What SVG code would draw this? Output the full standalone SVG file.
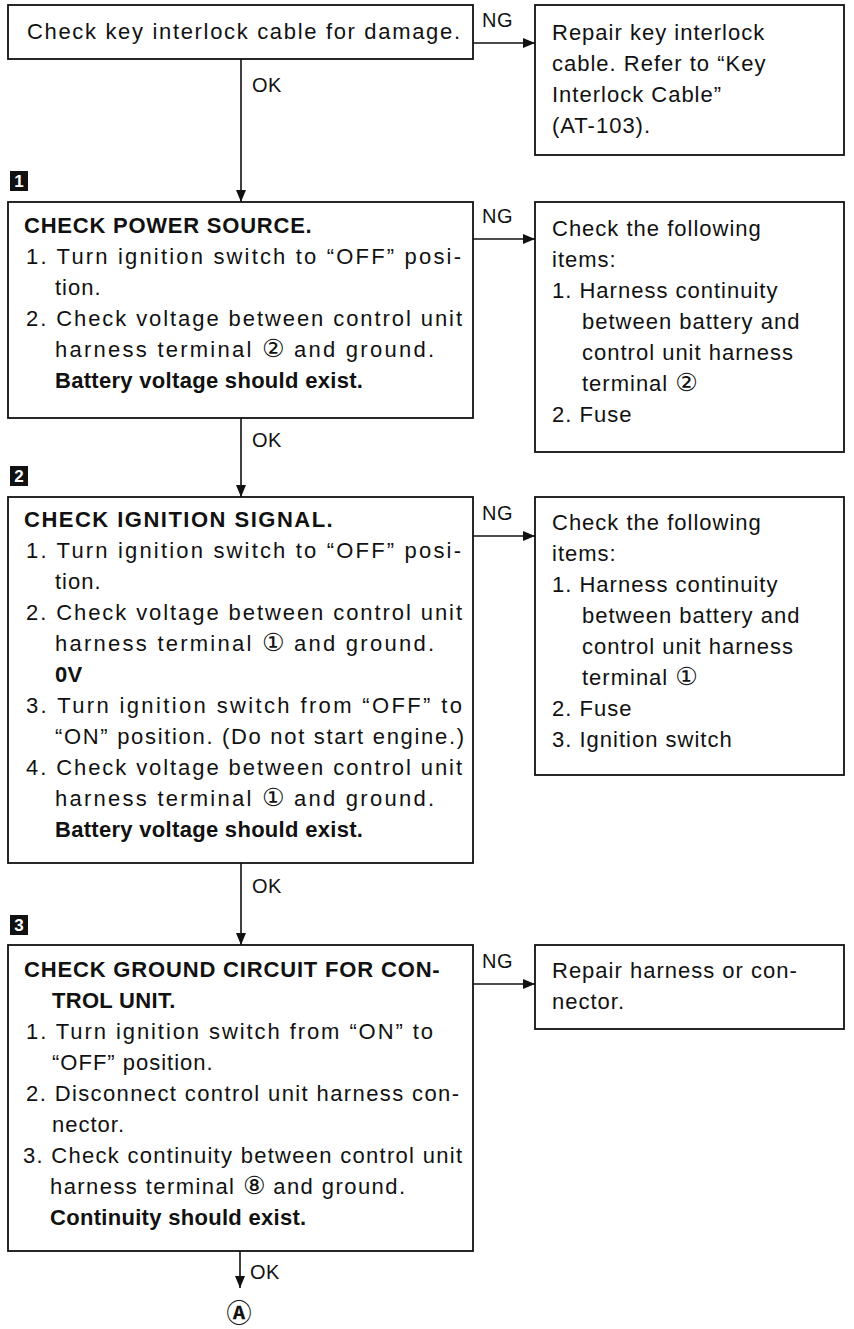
<svg xmlns="http://www.w3.org/2000/svg" width="854" height="1329" viewBox="0 0 854 1329">
<defs>
<style>
.t{font-family:"Liberation Sans",Arial,Helvetica,sans-serif;font-size:22px;letter-spacing:1px;fill:#111}
.b{font-weight:bold;letter-spacing:0.3px}
.lbl{font-family:"Liberation Sans",Arial,Helvetica,sans-serif;font-size:20px;letter-spacing:0.5px;fill:#111}
.cd{font-family:"DejaVu Sans","Noto Sans CJK JP",sans-serif;font-size:25px;letter-spacing:0}
.box{fill:#fff;stroke:#111;stroke-width:1.8}
.mk{fill:#111}
.mkt{font-family:"Liberation Sans",Arial,sans-serif;font-size:17px;font-weight:bold;fill:#fff;text-anchor:middle}
.ln{fill:none;stroke:#111;stroke-width:1.6}
</style>
<marker id="ah" viewBox="0 0 12 10" refX="12" refY="5" markerWidth="12" markerHeight="10" markerUnits="userSpaceOnUse" orient="auto">
<path d="M0,0 L12,5 L0,10 z" fill="#111"/>
</marker>
</defs>
<rect x="0" y="0" width="854" height="1329" fill="#fff"/>

<g id="connectors">
<path class="ln" d="M241,59 V202" marker-end="url(#ah)"/>
<path class="ln" d="M473,43 H535" marker-end="url(#ah)"/>
<path class="ln" d="M241,418 V497" marker-end="url(#ah)"/>
<path class="ln" d="M473,239 H535" marker-end="url(#ah)"/>
<path class="ln" d="M241,863 V945" marker-end="url(#ah)"/>
<path class="ln" d="M473,536 H535" marker-end="url(#ah)"/>
<path class="ln" d="M473,984 H535" marker-end="url(#ah)"/>
<path class="ln" d="M240,1251 V1288" marker-end="url(#ah)"/>
<text class="lbl" x="252" y="92">OK</text>
<text class="lbl" x="482" y="27">NG</text>
<text class="lbl" x="252" y="447">OK</text>
<text class="lbl" x="482" y="223">NG</text>
<text class="lbl" x="252" y="893">OK</text>
<text class="lbl" x="482" y="520">NG</text>
<text class="lbl" x="482" y="968">NG</text>
<text class="lbl" x="250" y="1279">OK</text>
</g>

<g id="start">
<rect class="box" x="8" y="5" width="465" height="54"/>
<text class="t" x="27" y="39" textLength="434" lengthAdjust="spacing">Check key interlock cable for damage.</text>
</g>

<g id="repair-cable">
<rect class="box" x="535" y="5" width="309" height="150"/>
<text class="t" x="552" y="40">Repair key interlock</text>
<text class="t" x="552" y="71">cable. Refer to “Key</text>
<text class="t" x="552" y="102">Interlock Cable”</text>
<text class="t" x="552" y="133">(AT-103).</text>
</g>

<g id="marker1">
<rect class="mk" x="10" y="171" width="18" height="20"/>
<text class="mkt" x="19" y="187">1</text>
</g>

<g id="step1">
<rect class="box" x="8" y="202" width="465" height="216"/>
<text class="t b" x="24" y="233" textLength="288" lengthAdjust="spacing">CHECK POWER SOURCE.</text>
<text class="t" x="26" y="264" textLength="436" lengthAdjust="spacing">1. Turn ignition switch to “OFF” posi-</text>
<text class="t" x="55" y="295">tion.</text>
<text class="t" x="26" y="326" textLength="437" lengthAdjust="spacing">2. Check voltage between control unit</text>
<text class="t" x="55" y="357" textLength="380" lengthAdjust="spacing">harness terminal <tspan class="cd">②</tspan> and ground.</text>
<text class="t b" x="55" y="388">Battery voltage should exist.</text>
</g>

<g id="step1-ng">
<rect class="box" x="535" y="202" width="309" height="250"/>
<text class="t" x="552" y="236">Check the following</text>
<text class="t" x="552" y="267">items:</text>
<text class="t" x="552" y="298">1. Harness continuity</text>
<text class="t" x="582" y="329">between battery and</text>
<text class="t" x="582" y="360">control unit harness</text>
<text class="t" x="582" y="391">terminal <tspan class="cd">②</tspan></text>
<text class="t" x="552" y="422">2. Fuse</text>
</g>

<g id="marker2">
<rect class="mk" x="10" y="466" width="18" height="20"/>
<text class="mkt" x="19" y="482">2</text>
</g>

<g id="step2">
<rect class="box" x="8" y="497" width="465" height="366"/>
<text class="t b" x="24" y="527" textLength="309" lengthAdjust="spacing">CHECK IGNITION SIGNAL.</text>
<text class="t" x="26" y="558" textLength="436" lengthAdjust="spacing">1. Turn ignition switch to “OFF” posi-</text>
<text class="t" x="55" y="589">tion.</text>
<text class="t" x="26" y="620" textLength="437" lengthAdjust="spacing">2. Check voltage between control unit</text>
<text class="t" x="55" y="651" textLength="380" lengthAdjust="spacing">harness terminal <tspan class="cd">①</tspan> and ground.</text>
<text class="t b" x="55" y="682">0V</text>
<text class="t" x="26" y="713" textLength="437" lengthAdjust="spacing">3. Turn ignition switch from “OFF” to</text>
<text class="t" x="55" y="744" textLength="410" lengthAdjust="spacing">“ON” position. (Do not start engine.)</text>
<text class="t" x="26" y="775" textLength="437" lengthAdjust="spacing">4. Check voltage between control unit</text>
<text class="t" x="55" y="806" textLength="380" lengthAdjust="spacing">harness terminal <tspan class="cd">①</tspan> and ground.</text>
<text class="t b" x="55" y="837">Battery voltage should exist.</text>
</g>

<g id="step2-ng">
<rect class="box" x="535" y="497" width="309" height="278"/>
<text class="t" x="552" y="530">Check the following</text>
<text class="t" x="552" y="561">items:</text>
<text class="t" x="552" y="592">1. Harness continuity</text>
<text class="t" x="582" y="623">between battery and</text>
<text class="t" x="582" y="654">control unit harness</text>
<text class="t" x="582" y="685">terminal <tspan class="cd">①</tspan></text>
<text class="t" x="552" y="716">2. Fuse</text>
<text class="t" x="552" y="747">3. Ignition switch</text>
</g>

<g id="marker3">
<rect class="mk" x="10" y="915" width="18" height="20"/>
<text class="mkt" x="19" y="931">3</text>
</g>

<g id="step3">
<rect class="box" x="8" y="945" width="465" height="306"/>
<text class="t b" x="24" y="977" textLength="416" lengthAdjust="spacing">CHECK GROUND CIRCUIT FOR CON-</text>
<text class="t b" x="52" y="1008">TROL UNIT.</text>
<text class="t" x="26" y="1039" textLength="408" lengthAdjust="spacing">1. Turn ignition switch from “ON” to</text>
<text class="t" x="52" y="1070">“OFF” position.</text>
<text class="t" x="26" y="1101" textLength="434" lengthAdjust="spacing">2. Disconnect control unit harness con-</text>
<text class="t" x="52" y="1132">nector.</text>
<text class="t" x="23" y="1163" textLength="440" lengthAdjust="spacing">3. Check continuity between control unit</text>
<text class="t" x="50" y="1194" textLength="356" lengthAdjust="spacing">harness terminal <tspan class="cd">⑧</tspan> and ground.</text>
<text class="t b" x="50" y="1225">Continuity should exist.</text>
</g>

<g id="step3-ng">
<rect class="box" x="535" y="945" width="309" height="84"/>
<text class="t" x="552" y="978">Repair harness or con-</text>
<text class="t" x="552" y="1009">nector.</text>
</g>

<g id="connector-A">
<text class="t cd" x="239" y="1322" text-anchor="middle" font-weight="bold" font-size="24">Ⓐ</text>
</g>
</svg>
